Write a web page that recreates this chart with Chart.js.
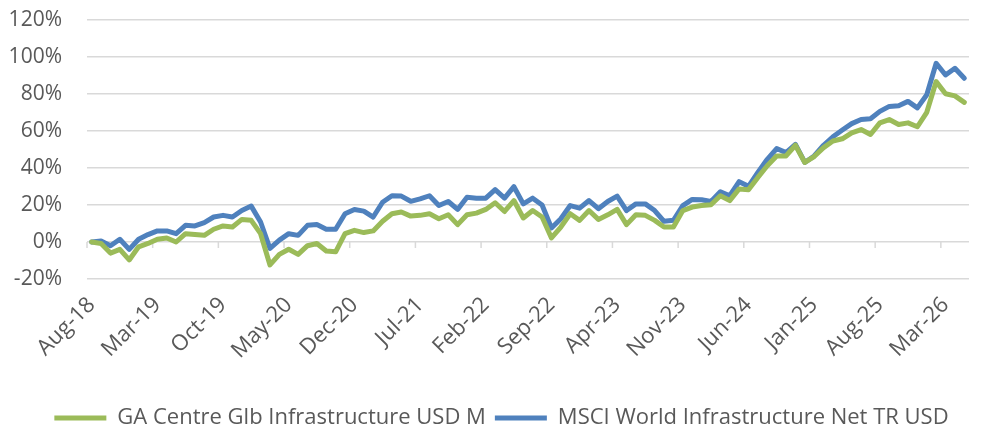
<!DOCTYPE html>
<html>
<head>
<meta charset="utf-8">
<script src="https://cdn.jsdelivr.net/npm/chart.js@4.4.1/dist/chart.umd.min.js"></script>
<style>
  html, body { margin: 0; padding: 0; background: #ffffff; }
  #wrap { width: 993px; height: 432px; }
</style>
</head>
<body>
<div id="wrap"><canvas id="c" width="993" height="432"></canvas></div>
<script>
const categories = [
  'Aug-18','Sep-18','Oct-18','Nov-18','Dec-18','Jan-19','Feb-19','Mar-19','Apr-19','May-19','Jun-19','Jul-19',
  'Aug-19','Sep-19','Oct-19','Nov-19','Dec-19','Jan-20','Feb-20','Mar-20','Apr-20','May-20','Jun-20','Jul-20',
  'Aug-20','Sep-20','Oct-20','Nov-20','Dec-20','Jan-21','Feb-21','Mar-21','Apr-21','May-21','Jun-21','Jul-21',
  'Aug-21','Sep-21','Oct-21','Nov-21','Dec-21','Jan-22','Feb-22','Mar-22','Apr-22','May-22','Jun-22','Jul-22',
  'Aug-22','Sep-22','Oct-22','Nov-22','Dec-22','Jan-23','Feb-23','Mar-23','Apr-23','May-23','Jun-23','Jul-23',
  'Aug-23','Sep-23','Oct-23','Nov-23','Dec-23','Jan-24','Feb-24','Mar-24','Apr-24','May-24','Jun-24','Jul-24',
  'Aug-24','Sep-24','Oct-24','Nov-24','Dec-24','Jan-25','Feb-25','Mar-25','Apr-25','May-25','Jun-25','Jul-25',
  'Aug-25','Sep-25','Oct-25','Nov-25','Dec-25','Jan-26','Feb-26','Mar-26','Apr-26','May-26'
];

const seriesNames = ['GA Centre Glb Infrastructure USD M', 'MSCI World Infrastructure Net TR USD'];

const gaCentre = [
  0, -0.8, -6, -4, -9.7, -2.6, -0.8, 1.5, 2.2, 0, 4.5, 4,
  3.6, 6.9, 8.7, 8.1, 12.2, 11.7, 4.5, -12.4, -6.7, -3.9, -6.7, -2,
  -0.8, -4.9, -5.3, 4.5, 6.3, 5.1, 6, 11.2, 15.3, 16.2, 14, 14.4,
  15.3, 12.6, 14.7, 9.4, 14.7, 15.6, 17.6, 21.2, 16.5, 22.4, 13, 17,
  13.5, 2.2, 8.1, 15.3, 11.7, 17, 12.2, 14.7, 17.6, 9.4, 14.7, 14.4,
  11.7, 8.1, 8.1, 17, 18.9, 19.7, 20.1, 25, 22.4, 28.7, 28.3, 34.9,
  41.2, 46.5, 46.5, 52.3, 43, 46.2, 51, 54.6, 55.8, 59, 60.8, 58.1,
  64.4, 66.2, 63.5, 64.4, 62.3, 70.1, 86.7, 80.1, 79, 75.5
];

const msciWorld = [
  0, 0.5, -2, 1.5, -4, 1.5, 4, 6, 6, 4.5, 9, 8.7,
  10.5, 13.5, 14.4, 13.5, 17, 19.4, 10.8, -3.5, 1, 4.5, 3.6, 9,
  9.4, 6.9, 6.9, 15.3, 17.6, 16.7, 13.5, 21.5, 25, 24.8, 22, 23.3,
  25, 19.7, 21.9, 17.6, 24.2, 23.7, 23.7, 28.3, 23.7, 29.9, 20.6, 23.7,
  20, 7.6, 12.6, 19.7, 18.3, 22.4, 18, 21.9, 24.8, 17, 20.6, 20.6,
  17, 11.2, 11.7, 19.7, 23, 22.8, 21.9, 27.2, 25, 32.6, 30.1, 37.6,
  44.7, 50.5, 48.3, 52.8, 43, 46.5, 52.3, 56.9, 60.5, 64, 66.2, 66.6,
  70.6, 73.3, 73.7, 76, 72.5, 79.6, 96.6, 90.3, 93.9, 88.5
];

const yTicks = [-20, 0, 20, 40, 60, 80, 100, 120];
const labelEvery = 7;

const GREEN = '#9BBB59';
const BLUE = '#4F81BD';
const GRID = '#d9d9d9';
const TEXT = '#595959';

Chart.defaults.font.family = '"Open Sans", sans-serif';
Chart.defaults.color = TEXT;

const axisTicks = {
  id: 'axisTicks',
  afterLayout(chart) {
    const lg = chart.legend;
    if (lg) { lg.left += 17; lg.right += 17; lg.top += 7; lg.bottom += 7; }
  },
  beforeDatasetsDraw(chart) {
    const x = chart.scales.x, y = chart.scales.y;
    const y0 = y.getPixelForValue(0);
    const ctx = chart.ctx;
    ctx.save();
    ctx.strokeStyle = GRID;
    ctx.lineWidth = 1.5;
    ctx.beginPath();
    for (let i = 0; i < categories.length; i += labelEvery) {
      const px = x.getPixelForValue(i - 0.5);
      ctx.moveTo(px, y0);
      ctx.lineTo(px, y0 + 6);
    }
    ctx.stroke();
    ctx.restore();
  }
};

new Chart(document.getElementById('c'), {
  type: 'line',
  data: {
    labels: categories,
    datasets: [
      { label: seriesNames[0], data: gaCentre, borderColor: GREEN, backgroundColor: GREEN,
        borderWidth: 5, pointRadius: 0, tension: 0, borderCapStyle: 'round', borderJoinStyle: 'round' },
      { label: seriesNames[1], data: msciWorld, borderColor: BLUE, backgroundColor: BLUE,
        borderWidth: 5, pointRadius: 0, tension: 0, borderCapStyle: 'round', borderJoinStyle: 'round' }
    ]
  },
  options: {
    responsive: false,
    animation: false,
    layout: { padding: { left: 0, right: 24, top: 20, bottom: 0 } },
    plugins: {
      tooltip: { enabled: false },
      legend: {
        position: 'bottom',
        labels: {
          usePointStyle: true,
          pointStyle: 'line',
          pointStyleWidth: 52,
          boxHeight: 20,
          padding: 9,
          color: TEXT,
          font: { size: 22 }
        }
      }
    },
    scales: {
      x: {
        type: 'category',
        offset: true,
        grid: { display: false },
        border: { display: false },
        ticks: {
          autoSkip: false,
          maxRotation: 45,
          minRotation: 45,
          padding: 5,
          color: TEXT,
          font: { size: 22 },
          callback: (v, i) => (i % labelEvery === 0 ? categories[i] : '')
        },
        afterFit: s => { s.height = 112; }
      },
      y: {
        min: yTicks[0],
        max: yTicks[yTicks.length - 1],
        afterBuildTicks: s => { s.ticks = yTicks.map(v => ({ value: v })); },
        grid: { color: GRID, lineWidth: 1.5, drawTicks: false },
        border: { display: false },
        ticks: {
          padding: 25,
          color: TEXT,
          font: { size: 21 },
          callback: v => v + '%'
        },
        afterFit: s => { s.width = 87; s.paddingTop = 0; s.paddingBottom = 0; }
      }
    }
  },
  plugins: [axisTicks]
});
</script>
</body>
</html>
